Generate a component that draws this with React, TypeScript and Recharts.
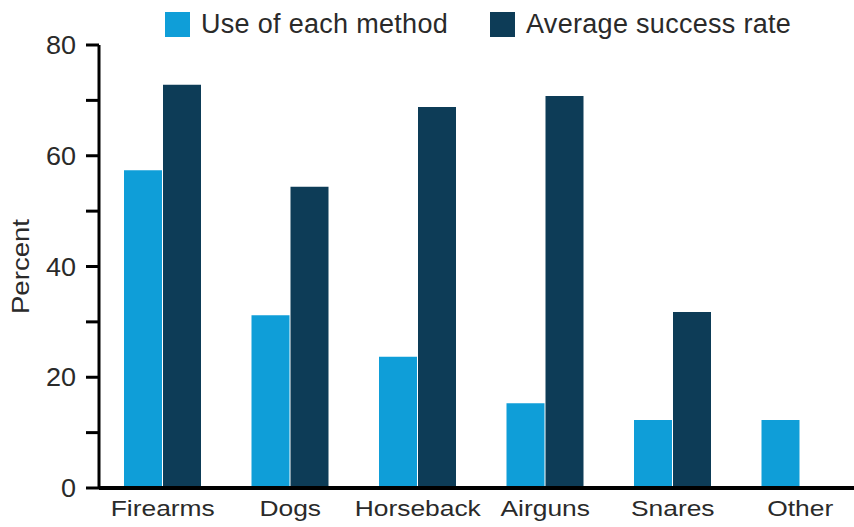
import { Bar, BarChart, Legend, XAxis, YAxis } from "recharts";

const categories = ["Firearms", "Dogs", "Horseback", "Airguns", "Snares", "Other"];
const useOfMethod = [57.4, 31.2, 23.7, 15.3, 12.3, 12.3];
const successRate: (number | null)[] = [72.8, 54.4, 68.8, 70.8, 31.8, null];
const yTicks = [0, 10, 20, 30, 40, 50, 60, 70, 80];

const LIGHT = "#0f9ed8";
const DARK = "#0d3c57";
const TEXT = "#2a2a2a";
const FONT = "'Liberation Sans', Arial, sans-serif";

const data = categories.map((name, i) => ({
    name,
    use: useOfMethod[i],
    success: successRate[i],
}));

const legendItems = [
    { label: "Use of each method", color: LIGHT },
    { label: "Average success rate", color: DARK },
];

// the original's labels are drawn wide, so stretch them a little
function XTick({ x, y, payload }: any) {
    return (
        <g transform={`translate(${x}, ${y}) scale(1.2, 1)`}>
            <text x={0} y={0} dy={28} textAnchor="middle" fill={TEXT} fontSize={22} fontFamily={FONT}>
                {payload.value}
            </text>
        </g>
    );
}

function YTick({ x, y, payload }: any) {
    if (payload.value % 20 !== 0) return <g />;
    return (
        <g transform={`translate(${x}, ${y}) scale(1.08, 1)`}>
            <text x={0} y={0} dy="0.36em" textAnchor="end" fill={TEXT} fontSize={25} fontFamily={FONT}>
                {payload.value}
            </text>
        </g>
    );
}

function LegendContent() {
    return (
        <div style={{ display: "flex", alignItems: "center", fontFamily: FONT, fontSize: 27, letterSpacing: 0.3, color: TEXT }}>
            {legendItems.map((item, i) => (
                <div key={item.label} style={{ display: "flex", alignItems: "center", marginRight: i === 0 ? 42 : 0 }}>
                    <span style={{ width: 25, height: 25, background: item.color, marginRight: 11, display: "inline-block" }} />
                    <span style={{ whiteSpace: "nowrap" }}>{item.label}</span>
                </div>
            ))}
        </div>
    );
}

export default function App() {
    return (
        <div style={{ position: "fixed", top: 0, left: 0, width: 854, height: 527, overflow: "hidden", background: "#fff" }}>
            <BarChart
                width={870}
                height={527}
                data={data}
                barGap={1}
                margin={{ top: 45, right: 6, left: 0, bottom: 0 }}
            >
                <Legend
                    layout="horizontal"
                    verticalAlign="middle"
                    align="center"
                    content={<LegendContent />}
                    wrapperStyle={{ top: 9, left: 165, width: "auto" }}
                />
                <XAxis
                    dataKey="name"
                    height={39}
                    axisLine={{ stroke: "#000", strokeWidth: 4 }}
                    tickLine={false}
                    tickSize={0}
                    tickMargin={0}
                    interval={0}
                    tick={<XTick />}
                />
                <YAxis
                    width={99}
                    domain={[0, 80]}
                    ticks={yTicks}
                    interval={0}
                    axisLine={{ stroke: "#000", strokeWidth: 3 }}
                    tickLine={{ stroke: "#000", strokeWidth: 3 }}
                    tickSize={13}
                    tickMargin={10}
                    tick={<YTick />}
                    label={({ viewBox }: any) => {
                        const cy = viewBox.y + viewBox.height / 2;
                        return (
                            <g transform={`translate(21, ${cy}) rotate(-90) scale(1.2, 1)`}>
                                <text
                                    x={0}
                                    y={0}
                                    textAnchor="middle"
                                    dominantBaseline="central"
                                    fill={TEXT}
                                    fontSize={23}
                                    fontFamily={FONT}
                                >
                                    Percent
                                </text>
                            </g>
                        );
                    }}
                />
                <Bar dataKey="use" fill={LIGHT} barSize={38} isAnimationActive={false} />
                <Bar dataKey="success" fill={DARK} barSize={38} isAnimationActive={false} />
            </BarChart>
        </div>
    );
}
